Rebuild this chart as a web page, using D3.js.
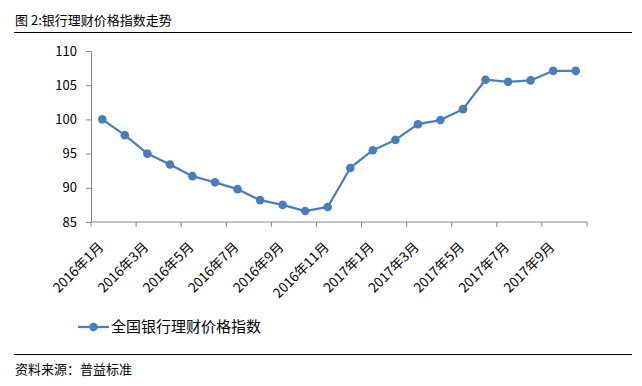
<!DOCTYPE html>
<html>
<head>
<meta charset="utf-8">
<script src="https://cdn.jsdelivr.net/npm/d3@7"></script>
<style>
  body { margin: 0; background: #fff; }
  svg { display: block; }
  text { font-family: "Noto Sans CJK SC", "Noto Sans", sans-serif; fill: #000; }
</style>
</head>
<body>
<div id="chart"></div>
<script>
// categories (months) and index values
const months = ["2016年1月","2016年2月","2016年3月","2016年4月","2016年5月","2016年6月",
  "2016年7月","2016年8月","2016年9月","2016年10月","2016年11月","2016年12月",
  "2017年1月","2017年2月","2017年3月","2017年4月","2017年5月","2017年6月",
  "2017年7月","2017年8月","2017年9月","2017年10月"];
const indexValues = [100.0, 97.7, 95.0, 93.4, 91.7, 90.8, 89.8, 88.2, 87.5, 86.6, 87.2,
  92.9, 95.5, 97.0, 99.3, 99.9, 101.5, 105.8, 105.5, 105.7, 107.1, 107.1];
const yTicks = [85, 90, 95, 100, 105, 110];
const seriesName = "全国银行理财价格指数";
const title = "图 2:银行理财价格指数走势";
const source = "资料来源：普益标准";

var width = 642, height = 386;
var margin = {top: 51, left: 91, right: 55, bottom: 164};
var color = "#4a7ebb";
var axisColor = "#868686";

var svg = d3.select("#chart")
    .append("svg")
    .attr("width", width)
    .attr("height", height);

// title and rules
svg.append("text")
    .attr("x", 15).attr("y", 25)
    .attr("font-size", 13)
    .text(title);
svg.append("line")
    .attr("x1", 14).attr("x2", 632)
    .attr("y1", 32.5).attr("y2", 32.5)
    .attr("stroke", "#000").attr("stroke-width", 1);

var x = d3.scaleBand()
    .domain(months)
    .range([margin.left, width - margin.right]);

var y = d3.scaleLinear()
    .domain([85, 110])
    .range([height - margin.bottom, margin.top]);

// y axis
var yAxis = svg.append("g")
    .attr("transform", "translate(" + margin.left + ",0)")
    .call(d3.axisLeft(y).tickValues(yTicks).tickSize(5).tickPadding(9));
yAxis.selectAll("text").attr("font-size", 13).attr("font-family", "Lato, 'Noto Sans', sans-serif");

// x axis: ticks every second category boundary
var xAxisY = y(85);
var boundaries = d3.range(0, months.length + 1, 2).map(i => margin.left + i * x.step());
var xg = svg.append("g");
xg.append("line")
    .attr("x1", margin.left).attr("x2", width - margin.right)
    .attr("y1", xAxisY).attr("y2", xAxisY);
xg.selectAll(".tk")
    .data(boundaries)
    .enter()
    .append("line")
    .attr("x1", d => d).attr("x2", d => d)
    .attr("y1", xAxisY).attr("y2", xAxisY + 5);
xg.selectAll("line").attr("stroke", axisColor).attr("stroke-width", 1);

yAxis.select(".domain").attr("stroke", axisColor);
yAxis.selectAll(".tick line").attr("stroke", axisColor);

xg.selectAll(".lbl")
    .data(months.filter((d, i) => i % 2 === 0))
    .enter()
    .append("text")
    .attr("font-size", 13.5)
    .attr("text-anchor", "end")
    .attr("transform", d => "translate(" + (x(d) + x.bandwidth() / 2 + 2) + "," + (xAxisY + 26) + ") rotate(-45)")
    .text(d => d);

// series
var line = d3.line()
    .x((d, i) => x(months[i]) + x.bandwidth() / 2)
    .y(d => y(d));

svg.append("path")
    .datum(indexValues)
    .attr("fill", "none")
    .attr("stroke", color)
    .attr("stroke-width", 2.25)
    .attr("stroke-linejoin", "round")
    .attr("d", line);

svg.append("g")
    .selectAll("circle")
    .data(indexValues)
    .enter()
    .append("circle")
    .attr("cx", (d, i) => x(months[i]) + x.bandwidth() / 2)
    .attr("cy", d => y(d))
    .attr("r", 4.3)
    .attr("fill", color);

// legend
var lg = svg.append("g").attr("transform", "translate(78,327)");
lg.append("line")
    .attr("x1", 0).attr("x2", 31)
    .attr("stroke", color).attr("stroke-width", 2.25);
lg.append("circle").attr("cx", 15.5).attr("r", 4.3).attr("fill", color);
lg.append("text")
    .attr("x", 33).attr("y", 5)
    .attr("font-size", 15)
    .text(seriesName);

// bottom rule and source
svg.append("line")
    .attr("x1", 14).attr("x2", 632)
    .attr("y1", 354.5).attr("y2", 354.5)
    .attr("stroke", "#000").attr("stroke-width", 1);
svg.append("text")
    .attr("x", 15).attr("y", 374)
    .attr("font-size", 13)
    .text(source);
</script>
</body>
</html>
